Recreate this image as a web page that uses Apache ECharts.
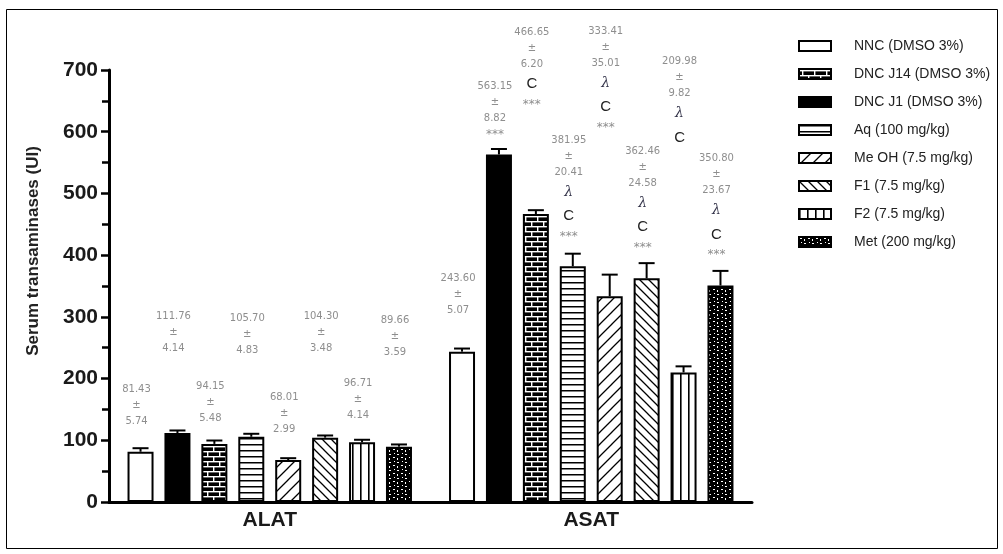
<!DOCTYPE html>
<html>
<head>
<meta charset="utf-8">
<script src="https://cdn.jsdelivr.net/npm/echarts@6/dist/echarts.min.js"></script>
<style>
  html, body { margin: 0; padding: 0; background: #fff; }
  #chart { width: 1003px; height: 554px; }
</style>
</head>
<body>
<div id="chart"></div>
<script>
// ---- data ----
const categories = ['ALAT', 'ASAT'];
const groupNames = [
  'NNC (DMSO 3%)', 'DNC J1 (DMSO 3%)', 'DNC J14 (DMSO 3%)', 'Aq (100 mg/kg)',
  'Me OH (7.5 mg/kg)', 'F1 (7.5 mg/kg)', 'F2 (7.5 mg/kg)', 'Met (200 mg/kg)'
];
const legendOrder = [
  'NNC (DMSO 3%)', 'DNC J14 (DMSO 3%)', 'DNC J1 (DMSO 3%)', 'Aq (100 mg/kg)',
  'Me OH (7.5 mg/kg)', 'F1 (7.5 mg/kg)', 'F2 (7.5 mg/kg)', 'Met (200 mg/kg)'
];
const alatMean = [81.43, 111.76, 94.15, 105.70, 68.01, 104.30, 96.71, 89.66];
const alatSem  = [5.74, 4.14, 5.48, 4.83, 2.99, 3.48, 4.14, 3.59];
const asatMean = [243.60, 563.15, 466.65, 381.95, 333.41, 362.46, 209.98, 350.80];
const asatSem  = [5.07, 8.82, 6.20, 20.41, 35.01, 24.58, 9.82, 23.67];
// significance marks for ASAT (λ, C, ***)
const asatLambda = [false, false, false, true, true, true, true, true];
const asatC      = [false, false, true, true, true, true, true, true];
const asatStars  = [false, true, true, true, true, true, false, true];
const yTickValues = [0, 100, 200, 300, 400, 500, 600, 700];

// ---- layout (pixels) ----
const alatLabelLift = [22, 77, 17, 78, 23, 81, 19, 86];
const asatLabelLift = [33, 11, 101, 21, 160, 22, 223, 22];
const BAR_W = 26;
const BAR_GAP = 0.42;
const CAP_HALF = 8;

// ---- fills ----
function tile(w, h, draw) {
  const c = document.createElement('canvas');
  c.width = w; c.height = h;
  const g = c.getContext('2d');
  draw(g, w, h);
  return { image: c, repeat: 'repeat' };
}
const fills = [
  '#ffffff',
  '#000000',
  tile(12, 10, (g) => {           // brick work
    g.fillStyle = '#000'; g.fillRect(0, 0, 12, 10);
    g.fillStyle = '#fff';
    g.fillRect(0, 1, 12, 1.4);
    g.fillRect(0, 6, 12, 1.4);
    g.fillRect(3, 1, 1.4, 5);
    g.fillRect(9, 6, 1.4, 4);
    g.fillRect(9, 0, 1.4, 1);
  }),
  tile(4, 6, (g) => {             // horizontal lines
    g.fillStyle = '#fff'; g.fillRect(0, 0, 4, 6);
    g.fillStyle = '#000'; g.fillRect(0, 0, 4, 1.5);
  }),
  tile(12, 12, (g) => {           // forward diagonal
    g.fillStyle = '#fff'; g.fillRect(0, 0, 12, 12);
    g.strokeStyle = '#000'; g.lineWidth = 1.3;
    g.beginPath();
    g.moveTo(-1, 13); g.lineTo(13, -1);
    g.moveTo(-7, 7); g.lineTo(7, -7);
    g.moveTo(5, 19); g.lineTo(19, 5);
    g.stroke();
  }),
  tile(9, 9, (g) => {             // backward diagonal
    g.fillStyle = '#fff'; g.fillRect(0, 0, 9, 9);
    g.strokeStyle = '#000'; g.lineWidth = 1.3;
    g.beginPath();
    g.moveTo(-1, -1); g.lineTo(10, 10);
    g.moveTo(-10, -1); g.lineTo(1, 10);
    g.moveTo(8, -1); g.lineTo(19, 10);
    g.stroke();
  }),
  tile(8, 4, (g) => {             // vertical lines
    g.fillStyle = '#fff'; g.fillRect(0, 0, 8, 4);
    g.fillStyle = '#000'; g.fillRect(0, 0, 1.6, 4);
  }),
  tile(8, 8, (g) => {             // dark speckle
    g.fillStyle = '#000'; g.fillRect(0, 0, 8, 8);
    g.fillStyle = '#fff';
    g.fillRect(1, 1, 2, 1);
    g.fillRect(5, 2, 1, 2);
    g.fillRect(2, 5, 1, 1);
    g.fillRect(5, 6, 2, 1);
  })
];

// ---- labels ----
function labelText(mean, sem, lambda, c, stars) {
  let t = '{v|' + mean.toFixed(2) + '}\n{p|±}\n{v|' + sem.toFixed(2) + '}';
  if (lambda) t += '\n{l|λ}';
  if (c) t += '\n{c|C}';
  if (stars) t += '\n{s|***}';
  return t;
}
const richStyles = {
  v: { fontFamily: 'DejaVu Sans', fontSize: 10, color: '#8e8e8e', lineHeight: 16 },
  p: { fontFamily: 'DejaVu Sans', fontSize: 10, color: '#8e8e8e', lineHeight: 16 },
  l: { fontFamily: 'DejaVu Serif', fontSize: 14, fontStyle: 'italic', color: '#34344a', lineHeight: 24 },
  c: { fontFamily: 'Liberation Sans', fontSize: 15, color: '#222', lineHeight: 24 },
  s: { fontFamily: 'DejaVu Sans', fontSize: 12, color: '#8e8e8e', lineHeight: 17 }
};

function barOffset(k) {
  const n = groupNames.length;
  const pitch = BAR_W * (1 + BAR_GAP);
  const total = n * BAR_W + (n - 1) * BAR_W * BAR_GAP;
  return -total / 2 + BAR_W / 2 + k * pitch;
}

const barSeries = groupNames.map((name, k) => ({
  name: name,
  type: 'bar',
  barWidth: BAR_W,
  barGap: (BAR_GAP * 100) + '%',
  itemStyle: { color: fills[k], borderColor: '#000', borderWidth: 2 },
  label: {
    show: true,
    position: 'top',
    offset: [-4, 0],
    rich: richStyles,
    formatter: (p) => p.dataIndex === 0
      ? labelText(alatMean[k], alatSem[k], false, false, false)
      : labelText(asatMean[k], asatSem[k], asatLambda[k], asatC[k], asatStars[k])
  },
  data: [
    { value: alatMean[k], label: { distance: alatLabelLift[k] } },
    { value: asatMean[k], label: { distance: asatLabelLift[k] } }
  ],
  z: 2
}));

const errData = [];
groupNames.forEach((n, k) => {
  errData.push([0, alatMean[k], alatSem[k], k]);
  errData.push([1, asatMean[k], asatSem[k], k]);
});

const errorSeries = {
  type: 'custom',
  name: 'sem',
  data: errData,
  encode: { x: 0, y: 1 },
  z: 3,
  silent: true,
  renderItem(params, api) {
    const cat = api.value(0), mean = api.value(1), sem = api.value(2), k = api.value(3);
    const base = api.coord([cat, mean]);
    const top = api.coord([cat, mean + sem]);
    const x = base[0] + barOffset(k);
    const st = { stroke: '#000', lineWidth: 2 };
    return {
      type: 'group',
      children: [
        { type: 'line', shape: { x1: x, y1: base[1], x2: x, y2: top[1] }, style: st },
        { type: 'line', shape: { x1: x - CAP_HALF, y1: top[1], x2: x + CAP_HALF, y2: top[1] }, style: st }
      ]
    };
  }
};

const chart = echarts.init(document.getElementById('chart'), null, { renderer: 'canvas' });
chart.setOption({
  animation: false,
  backgroundColor: '#fff',
  grid: { left: 109, right: 251, top: 70, bottom: 52 },
  legend: {
    data: legendOrder,
    orient: 'vertical',
    left: 793,
    top: 34,
    itemWidth: 32,
    itemHeight: 10,
    itemGap: 14,
    icon: 'rect',
    selectedMode: false,
    textStyle: { fontFamily: 'Liberation Sans', fontSize: 14, color: '#222', padding: [0, 0, 0, 18], lineHeight: 12 }
  },
  xAxis: {
    type: 'category',
    data: categories,
    axisLine: { lineStyle: { color: '#000', width: 3 } },
    axisTick: { alignWithLabel: true, length: 6, lineStyle: { width: 2.5, color: '#000' } },
    axisLabel: { fontFamily: 'Liberation Sans', fontWeight: 'bold', fontSize: 21, color: '#1a1a1a', margin: 8 }
  },
  yAxis: {
    type: 'value',
    min: yTickValues[0],
    max: yTickValues[yTickValues.length - 1],
    interval: 100,
    name: 'Serum transaminases (UI)',
    nameLocation: 'middle',
    nameGap: 67,
    nameTextStyle: { fontFamily: 'Liberation Sans', fontWeight: 'bold', fontSize: 17, color: '#222', padding: [0, 0, 0, 70] },
    axisLine: { show: true, lineStyle: { color: '#000', width: 3 } },
    axisTick: { show: true, length: 8, lineStyle: { width: 2.5, color: '#000' } },
    minorTick: { show: true, splitNumber: 2, length: 7, lineStyle: { width: 2.5, color: '#000' } },
    splitLine: { show: false },
    axisLabel: { fontFamily: 'Liberation Sans', fontWeight: 'bold', fontSize: 21, color: '#1a1a1a', margin: 11 }
  },
  graphic: [{
    type: 'rect',
    shape: { x: 6.5, y: 9.5, width: 991, height: 539 },
    style: { fill: 'none', stroke: '#000', lineWidth: 1 },
    silent: true
  }],
  series: [...barSeries, errorSeries]
});
</script>
</body>
</html>
